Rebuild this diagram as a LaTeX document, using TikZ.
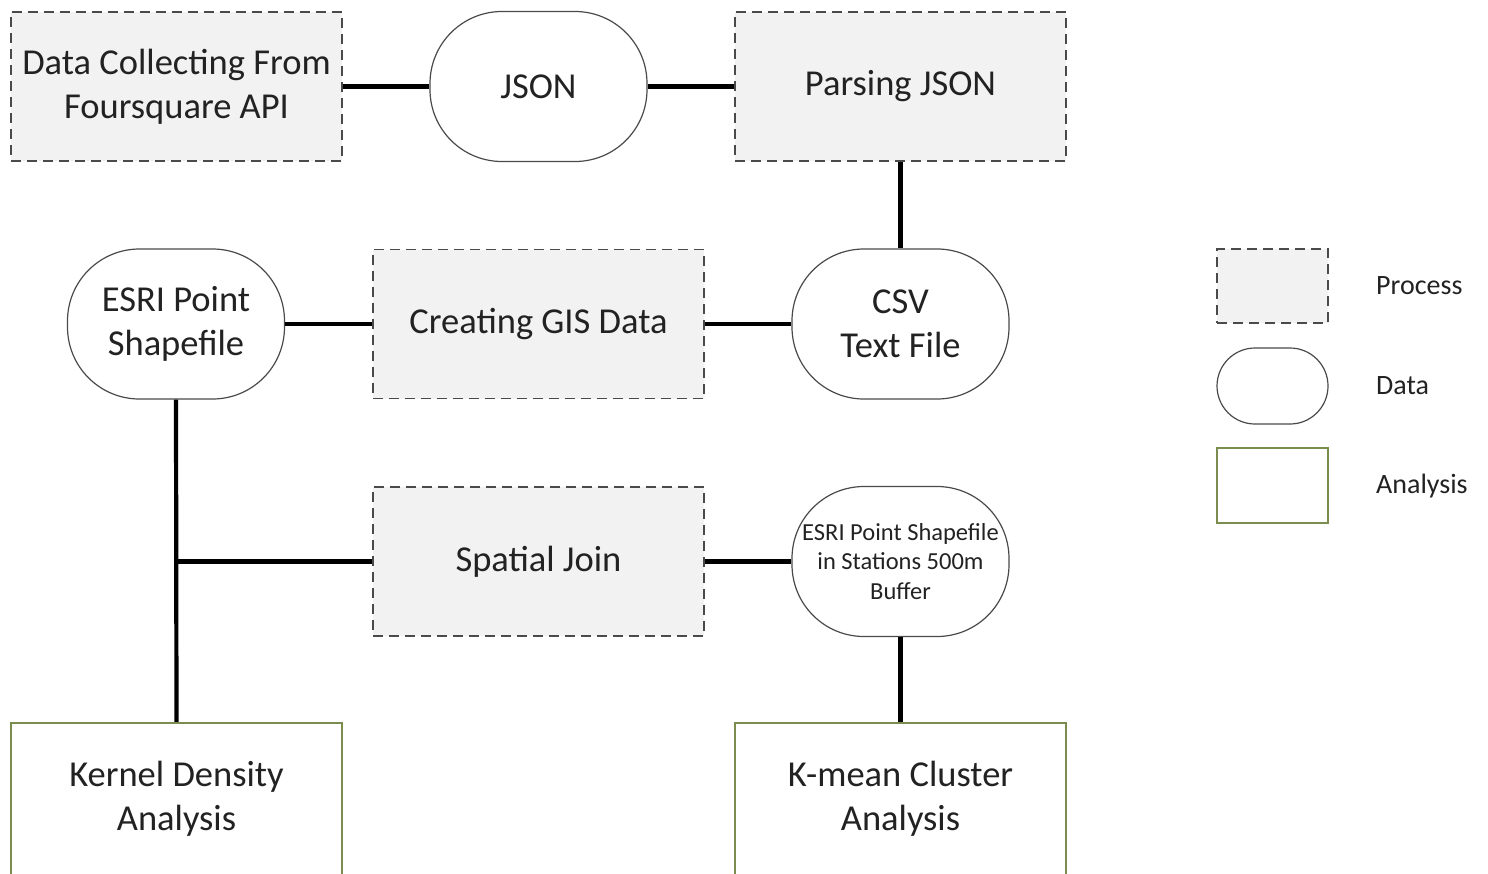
\documentclass[tikz,border=0pt]{standalone}
\usepackage{fontspec}
\setmainfont{Carlito}
\definecolor{txt}{HTML}{222222}
\definecolor{dashc}{HTML}{4A4A4A}
\definecolor{procfill}{HTML}{F2F2F2}
\definecolor{olive}{HTML}{7A8C4E}
\begin{document}
\begin{tikzpicture}[x=1pt,y=-1pt,
  every node/.style={inner sep=0pt,align=center,text=txt},
  big/.style={font=\fontsize{36.5}{44}\selectfont},
  process/.style={big,draw=dashc,fill=procfill,line width=1.6pt,dash pattern=on 10pt off 6pt,minimum width=331pt,minimum height=149pt},
  data/.style={big,draw=dashc,line width=1.2pt,rounded corners=72pt,minimum width=217pt,minimum height=150pt},
  analysis/.style={big,draw=olive,line width=2.2pt,minimum width=331pt,minimum height=152pt},
  link/.style={line width=4.2pt,black},
  leg/.style={font=\fontsize{28}{32}\selectfont,anchor=west}]
\useasboundingbox (0,0) rectangle (1488,873);
% row 1
\node[process] (collect) at (176.5,86.5) {Data Collecting From\\Foursquare API};
\node[data] (json) at (538.5,86.5) {JSON};
\node[process] (parse) at (900.5,86.5) {Parsing JSON};
% row 2
\node[data] (esri) at (176,324) {ESRI Point\\Shapefile};
\node[process] (gis) at (538.5,324) {Creating GIS Data};
\node[data] (csv) at (900.5,324) {CSV\\Text File};
% row 3
\node[process] (join) at (538.5,561.5) {Spatial Join};
\node[data,font=\fontsize{24.5}{29.5}\selectfont] (buf) at (900.5,561.5) {ESRI Point Shapefile\\in Stations 500m\\Buffer};
% row 4
\node[analysis] (kernel) at (176.5,799) {Kernel Density\\Analysis};
\node[analysis] (kmean) at (900.5,799) {K-mean Cluster\\Analysis};
% connectors
\draw[link] (collect.east) -- (json.west);
\draw[link] (json.east) -- (parse.west);
\draw[link] (parse.south) -- (csv.north);
\draw[link] (csv.west) -- (gis.east);
\draw[link] (gis.west) -- (esri.east);
\draw[link] (esri.south) -- (kernel.north);
\draw[link] (join.west) -- (join.west -| esri.south);
\draw[link] (buf.west) -- (join.east);
\draw[link] (buf.south) -- (kmean.north);
% legend
\node[process,minimum width=111pt,minimum height=74pt] (lp) at (1272.5,286) {};
\node[data,minimum width=111pt,minimum height=76pt,rounded corners=38pt] (ld) at (1272.5,386) {};
\node[analysis,minimum width=111pt,minimum height=75pt] (la) at (1272.5,485.5) {};
\node[leg] (lpt) at (1376,286) {Process};
\node[leg] (ldt) at (1376,386) {Data};
\node[leg] (lat) at (1376,486) {Analysis};
\end{tikzpicture}
\end{document}
